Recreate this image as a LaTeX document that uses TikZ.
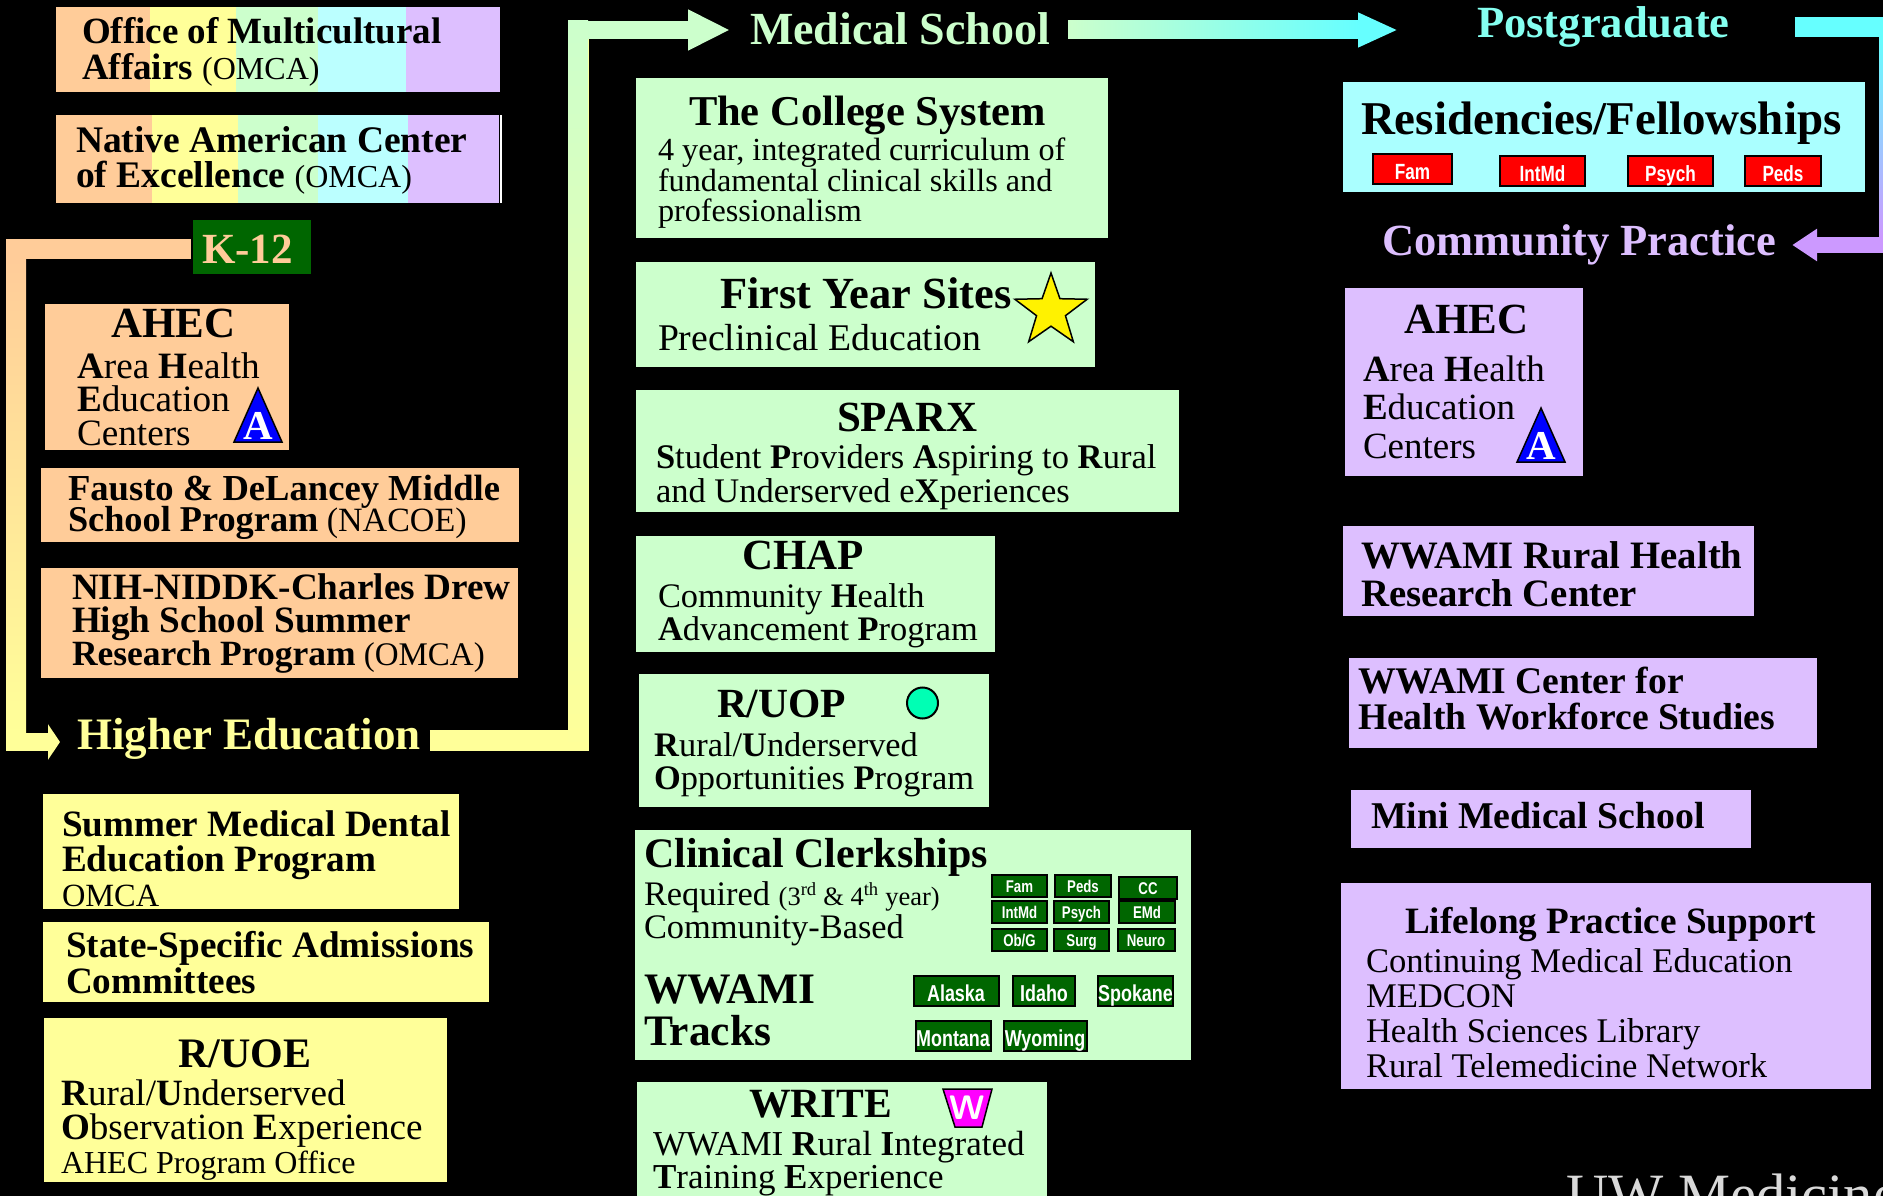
\documentclass[tikz,border=0pt]{standalone}
\usepackage{fontspec}
\setmainfont{Liberation Serif}
\newfontfamily\tagfont[FakeStretch=0.78]{Liberation Sans}
\usetikzlibrary{arrows.meta,shapes.geometric}
\definecolor{peachc}{HTML}{FFCC99}
\definecolor{yellc}{HTML}{FFFF99}
\definecolor{greenc}{HTML}{CCFFCC}
\definecolor{cyanc}{HTML}{BBFFFF}
\definecolor{lavc}{HTML}{DDBFFF}
\definecolor{darkg}{HTML}{006600}
\definecolor{flowcyan}{HTML}{66FFFF}
\definecolor{flowlav}{HTML}{CC99FF}
\definecolor{badgec}{HTML}{FF00FF}
\definecolor{dotc}{HTML}{00FFB4}
\newcommand{\fsz}[2]{\fontsize{#1}{#2}\selectfont\lineskiplimit=-50pt\relax}
\begin{document}
\begin{tikzpicture}[x=1pt,y=-1pt,
        blk/.style={rectangle,anchor=north west,inner sep=0pt,outer sep=0pt},
        lbl/.style={anchor=base west,inner sep=0pt,outer sep=0pt,align=left,text=black},
        head/.style={lbl,font=\bfseries\fsz{43}{43}},
        flow/.style={line width=18pt,line cap=butt,line join=miter},
        tag/.style={draw=black,line width=2pt,inner sep=0pt,text=white,minimum height=22pt,text height=15pt,text depth=2pt,font=\tagfont\bfseries\fsz{17}{17}},
        bigtag/.style={tag,minimum height=30pt,text height=24pt,text depth=3pt,font=\tagfont\bfseries\fsz{23}{23}},
        greentag/.style={fill=darkg},
        redtag/.style={bigtag,fill=red,font=\tagfont\bfseries\fsz{22}{22}},
        atri/.pic={
          \draw[fill=blue,line width=1.5pt] (0,0) -- (-24,0) -- (0,-54) -- (24,0) -- cycle;
          \node[inner sep=0pt,text=white,font=\bfseries\fsz{41}{41}] (atxt) at (0,-16) {A};
        }
                                ]
  \useasboundingbox (0,0) rectangle (1883,1196);
  \fill[black] (0,0) rectangle (1883,1196);

  % rainbow boxes at the top
  \foreach \xa/\xb/\col in {56/150/peachc,150/236/yellc,236/318/greenc,318/406/cyanc,406/500/lavc}
    \fill[\col] (\xa,7) rectangle (\xb,92);
  \foreach \xa/\xb/\col in {56/152/peachc,152/238/yellc,238/318/greenc,318/408/cyanc,408/499/lavc}
    \fill[\col] (\xa,115) rectangle (\xb,203);
  \fill[white] (500,115) rectangle (502,203);
  \node[lbl,font=\fsz{37}{36}] (office) at (82,80) {\textbf{Office of Multicultural}\\\textbf{Affairs} {\fsz{32}{36}(OMCA)}};
  \node[lbl,font=\fsz{37.5}{35}] (native) at (76,187) {\textbf{Native American Center}\\\textbf{of Excellence} {\fsz{32}{35}(OMCA)}};

  % titles of the stages
  \node[blk,fill=darkg,minimum width=118pt,minimum height=54pt] (k12box) at (193,220) {};
  \node[lbl,text=peachc,font=\bfseries\fsz{43}{43}] (k12) at (202,263) {K-12};
  \node[lbl,text=yellc,font=\bfseries\fsz{45}{45}] (higher) at (77,749) {Higher Education};
  \node[lbl,text=greenc,font=\bfseries\fsz{46}{46}] (medical) at (750,45) {Medical School};
  \node[lbl,text=flowcyan!70!greenc,font=\bfseries\fsz{44.6}{45}] (post) at (1477,38) {Postgraduate};
  \node[lbl,text=lavc,font=\bfseries\fsz{44.5}{45}] (community) at (1382,255) {Community Practice};

  % stage connectors
  \coordinate (ka) at (16,249);
  \coordinate (kb) at (16,742);
  \coordinate (ha) at (578,740);
  \coordinate (hb) at (578,30);
  \coordinate (pa) at (1889,27);
  \coordinate (pb) at (1889,245);
  \draw[flow,peachc,line width=20pt,shorten <=2pt,shorten >=9pt] (ka -| k12box.west) -- (ka) -- (kb);
  \draw[flow,yellc,shorten <=-10pt,shorten >=17pt,-{Triangle[length=12pt,width=35pt]}] (ka |- kb) -- (kb -| higher.west);
  \shade[top color=peachc,bottom color=yellc] (6,259) rectangle (26,733);
  \draw[flow,yellc,line width=21pt,shorten <=9pt] (ha -| higher.east) -- (ha) -- (hb);
  \draw[flow,greenc,shorten >=20pt,-{Triangle[length=42pt,width=38pt]}] (hb) -- (hb -| medical.west);
  \shade[top color=greenc,bottom color=yellc] (568,21) rectangle (588,749);
  \draw[flow,flowcyan,shorten <=20pt,shorten >=79pt,-{Triangle[length=40pt,width=32pt]}] (medical.east |- hb) -- (hb -| post.west);
  \shade[left color=greenc,right color=flowcyan] (1068,21) rectangle (1358,39);
  \draw[flow,flowcyan,line width=20pt,shorten <=65pt] (pa -| post.east) -- (pa) -- (pb);
  \draw[flow,flowlav,line width=16pt,shorten >=16pt,-{Triangle[length=25pt,width=31pt]}] (pb) -- (pb -| community.east);
  \shade[top color=flowcyan,bottom color=flowlav] (1879,37) rectangle (1899,237);

  % K-12 column
  \node[blk,fill=peachc,minimum width=244pt,minimum height=146pt] (ahecl) at (45,304) {};
  \node[head] (aheclt) at (111,337) {AHEC};
  \node[lbl,font=\fsz{37.2}{33.5}] (aheclb) at (77,445) {\textbf{A}rea \textbf{H}ealth\\\textbf{E}ducation\\Centers};
  \pic at (258,442) {atri};
  \node[blk,fill=peachc,minimum width=478pt,minimum height=74pt] (fausto) at (41,468) {};
  \node[lbl,font=\fsz{34}{31}] (faustot) at (68,531) {{\bfseries\fsz{36.6}{31}Fausto \& DeLancey Middle}\\{\bfseries\fsz{36.3}{31}School Program} (NACOE)};
  \node[blk,fill=peachc,minimum width=477pt,minimum height=110pt] (nih) at (41,568) {};
  \node[lbl,font=\fsz{33}{33}] (niht) at (72,665) {{\bfseries\fsz{37.2}{33}NIH-NIDDK-Charles Drew}\\{\bfseries\fsz{37.2}{33}High School Summer}\\{\bfseries\fsz{35.5}{33}Research Program} (OMCA)};

  % higher education column
  \node[blk,fill=yellc,minimum width=416pt,minimum height=115pt] (summer) at (43,794) {};
  \node[lbl,font=\fsz{32.4}{35}] (summert) at (62,906) {{\bfseries\fsz{37.2}{35}Summer Medical Dental}\\{\bfseries\fsz{37.2}{35}Education Program}\\OMCA};
  \node[blk,fill=yellc,minimum width=446pt,minimum height=80pt] (state) at (43,922) {};
  \node[lbl,font=\bfseries\fsz{37.2}{36}] (statet) at (66,993) {State-Specific Admissions\\Committees};
  \node[blk,fill=yellc,minimum width=403pt,minimum height=164pt] (ruoe) at (44,1018) {};
  \node[head,font=\bfseries\fsz{42}{42}] (ruoet) at (178,1067) {R/UOE};
  \node[lbl,font=\fsz{37.1}{34}] (ruoeb) at (61,1173) {\textbf{R}ural/\textbf{U}nderserved\\\textbf{O}bservation \textbf{E}xperience\\{\fsz{32}{34}AHEC Program Office}};

  % medical school column
  \node[blk,fill=greenc,minimum width=472pt,minimum height=160pt] (college) at (636,78) {};
  \node[head,font=\bfseries\fsz{42.5}{43}] (collegat) at (689,126) {The College System};
  \node[lbl,font=\fsz{32.2}{31}] (collegeb) at (658,222) {4 year, integrated curriculum of\\fundamental clinical skills and\\professionalism};
  \node[blk,fill=greenc,minimum width=459pt,minimum height=105pt] (first) at (636,262) {};
  \node[head,font=\bfseries\fsz{44.5}{45}] (firstt) at (720,308) {First Year Sites};
  \node[lbl,font=\fsz{37.7}{36}] (firstb) at (658,350) {Preclinical Education};
  \node[star,star points=5,star point ratio=2.5,draw=black,line width=1.5pt,fill=yellow,minimum size=76pt,inner sep=0pt] (starsite) at (1051,311) {};
  \node[blk,fill=greenc,minimum width=543pt,minimum height=122pt] (sparx) at (636,390) {};
  \node[head] (sparxt) at (837,431) {SPARX};
  \node[lbl,font=\fsz{34.5}{34}] (sparxb) at (656,502) {\textbf{S}tudent \textbf{P}roviders \textbf{A}spiring to \textbf{R}ural\\and Underserved e\textbf{X}periences};
  \node[blk,fill=greenc,minimum width=359pt,minimum height=116pt] (chap) at (636,536) {};
  \node[head] (chapt) at (742,569) {CHAP};
  \node[lbl,font=\fsz{34.4}{33}] (chapb) at (658,640) {Community \textbf{H}ealth\\\textbf{A}dvancement \textbf{P}rogram};
  \node[blk,fill=greenc,minimum width=350pt,minimum height=133pt] (ruop) at (639,674) {};
  \node[head,font=\bfseries\fsz{41.5}{42}] (ruopt) at (717,717) {R/UOP};
  \node[circle,draw=black,line width=2pt,fill=dotc,minimum size=31pt,inner sep=0pt] (ruopdot) at (922.5,703) {};
  \node[lbl,font=\fsz{34.4}{33}] (ruopb) at (654,789) {\textbf{R}ural/\textbf{U}nderserved\\\textbf{O}pportunities \textbf{P}rogram};

  % clerkships and tracks
  \node[blk,fill=greenc,minimum width=556pt,minimum height=230pt] (clerk) at (635,830) {};
  \node[head,font=\bfseries\fsz{42}{42}] (clerkt) at (644,867) {Clinical Clerkships};
  \node[lbl,font=\fsz{34.4}{33}] (clerkb) at (644,938) {Required {\fsz{26.5}{33}(3\textsuperscript{rd} \& 4\textsuperscript{th} year)}\\Community-Based};
  \node[lbl,font=\bfseries\fsz{43.5}{42}] (tracks) at (644,1045) {WWAMI\\Tracks};
  \foreach \nm/\cx/\cy/\bw/\txt in {
      tfam/1019.5/885.5/55/Fam,tpeds/1083/885.5/56/Peds,tcc/1148/887.5/58/CC,
      tint/1019.5/911.5/55/IntMd,tpsy/1081.5/911.5/55/Psych,temd/1147/911.5/56/EMd,
      tobg/1019.5/939.5/55/Ob\slash G,tsur/1081.5/939.5/55/Surg,tneu/1146/939.5/57/Neuro}
    \node[tag,greentag,minimum width=\bw pt] (\nm) at (\cx,\cy) {\txt};
  \foreach \nm/\cx/\cy/\bw/\txt in {
      talaska/956/991/85/Alaska,tidaho/1044/991/62/Idaho,tspokane/1135.5/991/75/Spokane,
      tmontana/953/1035.5/75/Montana,twyoming/1045/1035.5/83/Wyoming}
    \node[bigtag,greentag,minimum width=\bw pt] (\nm) at (\cx,\cy) {\txt};

  % WRITE box runs off the bottom
  \node[blk,fill=greenc,minimum width=410pt,minimum height=120pt] (write) at (637,1082) {};
  \node[head,font=\bfseries\fsz{41.6}{42}] (writet) at (749,1117) {WRITE};
  \draw[fill=badgec,line width=1.5pt] (943,1089) -- (992,1089) -- (982,1127) -- (955,1127) -- cycle;
  \node[inner sep=0pt,text=white,font=\sffamily\bfseries\fsz{34}{34}] (writew) at (967,1108) {W};
  \node[lbl,font=\fsz{35}{33}] (writeb) at (653,1188) {WWAMI \textbf{R}ural \textbf{I}ntegrated\\\textbf{T}raining \textbf{E}xperience};

  % postgraduate
  \node[blk,fill=cyanc!80!flowcyan,minimum width=522pt,minimum height=110pt] (resid) at (1343,82) {};
  \node[head,font=\bfseries\fsz{47}{47}] (residt) at (1361,135) {Residencies/Fellowships};
  \node[redtag,minimum width=79pt] (rfam) at (1412.5,169) {Fam};
  \node[redtag,minimum width=85pt] (rint) at (1542.5,171) {IntMd};
  \node[redtag,minimum width=85pt] (rpsy) at (1670.5,171) {Psych};
  \node[redtag,minimum width=76pt] (rped) at (1783,171) {Peds};

  % community practice column
  \node[blk,fill=lavc,minimum width=238pt,minimum height=188pt] (ahecr) at (1345,288) {};
  \node[head] (ahecrt) at (1404,333) {AHEC};
  \node[lbl,font=\fsz{37}{38.5}] (ahecrb) at (1363,458) {\textbf{A}rea \textbf{H}ealth\\\textbf{E}ducation\\Centers};
  \pic at (1541,462) {atri};
  \node[blk,fill=lavc,minimum width=411pt,minimum height=90pt] (rural) at (1343,526) {};
  \node[lbl,font=\bfseries\fsz{38.8}{38}] (ruralt) at (1361,606) {WWAMI Rural Health\\Research Center};
  \node[blk,fill=lavc,minimum width=468pt,minimum height=90pt] (center) at (1349,658) {};
  \node[lbl,font=\bfseries\fsz{37.6}{36}] (centert) at (1358,729) {WWAMI Center for\\Health Workforce Studies};
  \node[blk,fill=lavc,minimum width=400pt,minimum height=58pt] (mini) at (1351,790) {};
  \node[lbl,font=\bfseries\fsz{37.8}{38}] (minit) at (1371,828) {Mini Medical School};
  \node[blk,fill=lavc,minimum width=530pt,minimum height=206pt] (life) at (1341,883) {};
  \node[lbl,font=\bfseries\fsz{37.2}{37}] (lifet) at (1405,933) {Lifelong Practice Support};
  \node[lbl,font=\fsz{34.6}{35}] (lifeb) at (1366,1077) {Continuing Medical Education\\MEDCON\\Health Sciences Library\\Rural Telemedicine Network};

  % logo cut by the lower edge
  \node[lbl,text=white!85!black,font=\fsz{58.5}{60}] (logo) at (1566,1214) {UW Medicine};
\end{tikzpicture}
\end{document}
